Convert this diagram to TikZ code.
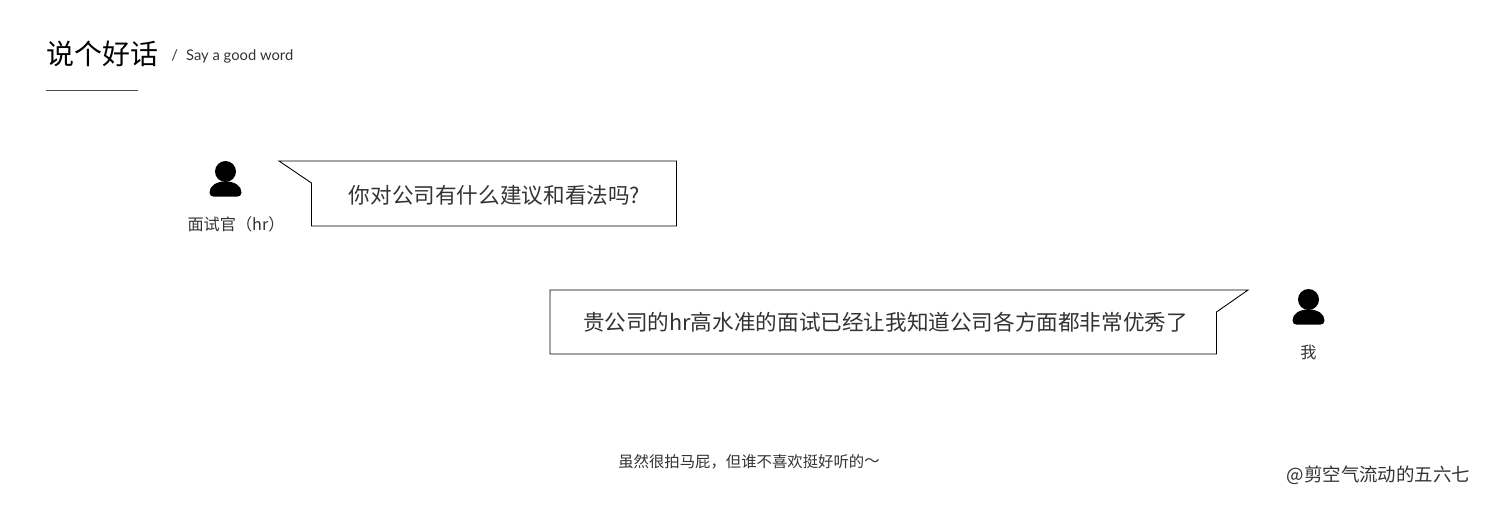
\documentclass[tikz,border=0pt]{standalone}
\usepackage{fontspec}
\setmainfont{Noto Sans CJK SC}
\newfontfamily\latinfont{Lato}
\definecolor{inkgray}{HTML}{333333}
\tikzset{
  bubble/.style={draw=black,line width=0.5pt},
  msg/.style={text=inkgray,font=\fontsize{12.3}{14}\selectfont,inner sep=0pt},
  small/.style={text=inkgray,font=\fontsize{9.2}{11}\selectfont,inner sep=0pt}
}
\begin{document}
\begin{tikzpicture}[x=0.02cm,y=-0.02cm]
  \useasboundingbox (0,0) rectangle (1500,525);
  % heading
  \node (title) [anchor=west,inner sep=0pt,font=\fontsize{15.9}{18}\selectfont] at (46,54) {说个好话};
  \node (subtitle) [anchor=west,small,font=\latinfont\fontsize{8.4}{10}\selectfont] at (171,56.5) {/\hspace{0.55em}Say a good word};
  \coordinate (ruleleft) at (46,90.5);
  \coordinate (ruleright) at (138,90.5);
  \draw[line width=0.4pt,black!70] (ruleleft)--(ruleright);
  % people
  \foreach \x/\y in {225.5/171.5,1308.5/299.5}{
    \fill (\x,\y) circle [radius=10.5];
    \fill (\x-16,\y+21) .. controls (\x-16,\y+14) and (\x-9,\y+10) .. (\x,\y+10)
      .. controls (\x+9,\y+10) and (\x+16,\y+14) .. (\x+16,\y+21)
      .. controls (\x+16,\y+24) and (\x+14,\y+25) .. (\x+12,\y+25)
      -- (\x-12,\y+25) .. controls (\x-14,\y+25) and (\x-16,\y+24) .. cycle;
  }
  \node (hr) [small] at (236,224) {面试官（hr）};
  \node (me) [small] at (1308.5,352) {我};
  % bubbles
  \draw[bubble] (279,161)--(676.5,161)--(676.5,226)--(311.5,226)--(311.5,183)--cycle;
  \node (ask) [msg] at (494.5,195) {你对公司有什么建议和看法吗?};
  \draw[bubble] (1248,290)--(550,290)--(550,354)--(1216.5,354)--(1216.5,312)--cycle;
  \node (answer) [msg] at (885.5,322) {贵公司的hr高水准的面试已经让我知道公司各方面都非常优秀了};
  % bottom
  \node (remark) [text=inkgray,inner sep=0pt,font=\fontsize{8.75}{10}\selectfont] at (749,461.5) {虽然很拍马屁，但谁不喜欢挺好听的\raisebox{0.05em}{～}};
  \node (sign) [anchor=east,text=inkgray,inner sep=0pt,font=\fontsize{10.5}{12}\selectfont] at (1470.5,475) {@剪空气流动的五六七};
\end{tikzpicture}
\end{document}
